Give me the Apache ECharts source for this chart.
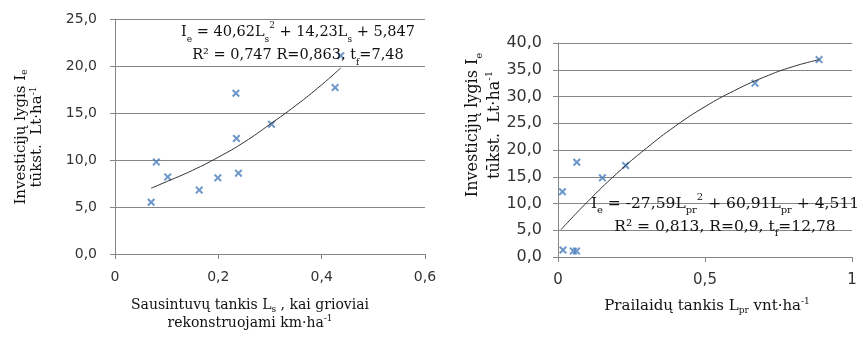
<!DOCTYPE html>
<html>
<head>
<meta charset="utf-8">
<script src="https://cdn.jsdelivr.net/npm/echarts@6/dist/echarts.min.js"></script>
<style>
  html, body { margin: 0; padding: 0; background: #fff; }
  #chart { width: 863px; height: 342px; }
</style>
</head>
<body>
<div id="chart"></div>
<script>
// left chart: Sausintuvu tankis Ls (x) vs investiciju lygis Ie (y)
var sausX = [0.070, 0.080, 0.102, 0.163, 0.199, 0.239, 0.234, 0.235, 0.303, 0.426, 0.437];
var sausY = [5.5, 9.8, 8.2, 6.8, 8.1, 8.6, 17.1, 12.3, 13.8, 17.7, 21.1];
// trend line
var sausTrendX = [0.07, 0.10, 0.15, 0.20, 0.25, 0.30, 0.35, 0.40, 0.437];
var sausTrendY = [7.0, 7.7, 8.9, 10.3, 11.9, 13.8, 15.8, 18.0, 19.8];

// right chart: Prailaidu tankis Lpr (x) vs investiciju lygis Ie (y)
var prX = [0.015, 0.017, 0.052, 0.063, 0.064, 0.151, 0.230, 0.670, 0.888];
var prY = [12.2, 1.3, 1.1, 1.1, 17.7, 14.8, 17.1, 32.5, 36.9];
var prTrendX = [0.01, 0.10, 0.20, 0.30, 0.40, 0.50, 0.60, 0.70, 0.80, 0.89];
var prTrendY = [5.1, 10.3, 15.6, 20.3, 24.5, 28.1, 31.1, 33.6, 35.6, 36.9];

var zip = function(xs, ys) {
    var out = [];
    for (var i = 0; i < xs.length; i++) out.push([xs[i], ys[i]]);
    return out;
};

var SERIF = 'DejaVu Serif';
var SANS = 'DejaVu Sans';
var GRID_COLOR = '#868686';
var MARK_COLOR = '#4a7ebb';
var CROSS = 'path://M0,1.8L1.8,0L5,3.2L8.2,0L10,1.8L6.8,5L10,8.2L8.2,10L5,6.8L1.8,10L0,8.2L3.2,5Z';

// rich styles: n = normal, b = subscript, p = superscript
var richFor = function(fs, lh) {
    var small = Math.round(fs * 0.62);
    var kb = Math.round(fs * 0.2);
    var kp = Math.round(fs * 0.15);
    return {
        n: { fontSize: fs, fontFamily: SERIF, lineHeight: lh, fill: '#111' },
        b: { fontSize: small, fontFamily: SERIF, lineHeight: lh - 2 * kb, verticalAlign: 'bottom', fill: '#111' },
        p: { fontSize: small, fontFamily: SERIF, lineHeight: lh - 2 * kp, verticalAlign: 'top', fill: '#111' }
    };
};

var label = function(x, y, text, fs, lh, rot) {
    return {
        type: 'text',
        x: x,
        y: y,
        rotation: rot || 0,
        z: 10,
        style: {
            text: text,
            rich: richFor(fs, lh),
            fontFamily: SERIF,
            fontSize: fs,
            fill: '#111',
            align: 'center',
            verticalAlign: 'middle'
        }
    };
};

var yFmt = function(v) { return v.toFixed(1).replace('.', ','); };
var xFmt = function(v) { return String(+v.toFixed(2)).replace('.', ','); };

var makeX = function(idx, max, interval, fs) {
    return {
        type: 'value', gridIndex: idx, min: 0, max: max, interval: interval,
        axisLine: { show: true, lineStyle: { color: GRID_COLOR } },
        axisTick: { show: true, length: 5, lineStyle: { color: GRID_COLOR } },
        splitLine: { show: false },
        axisLabel: { formatter: xFmt, fontFamily: SANS, fontSize: fs, color: '#333', margin: 16 }
    };
};
var makeY = function(idx, max, fs, margin) {
    return {
        type: 'value', gridIndex: idx, min: 0, max: max, interval: 5,
        axisLine: { show: true, lineStyle: { color: GRID_COLOR } },
        axisTick: { show: true, length: 5, lineStyle: { color: GRID_COLOR } },
        splitLine: { show: true, lineStyle: { color: GRID_COLOR, width: 1 } },
        axisLabel: { formatter: yFmt, fontFamily: SANS, fontSize: fs, color: '#333', margin: margin }
    };
};

var myChart = echarts.init(document.getElementById('chart'), null, { renderer: 'canvas' });

var option = {
    animation: false,
    backgroundColor: '#fff',
    grid: [
        { left: 115, right: 438, top: 19, bottom: 88 },
        { left: 558, right: 11, top: 43, bottom: 85 }
    ],
    xAxis: [makeX(0, 0.6, 0.2, 14), makeX(1, 1, 0.5, 15)],
    yAxis: [makeY(0, 25, 14, 18), makeY(1, 40, 16, 16)],
    series: [{
        type: 'line', xAxisIndex: 0, yAxisIndex: 0,
        data: zip(sausTrendX, sausTrendY),
        smooth: true, showSymbol: false,
        lineStyle: { color: '#333', width: 1 }
    }, {
        type: 'scatter', xAxisIndex: 0, yAxisIndex: 0,
        data: zip(sausX, sausY),
        symbol: CROSS, symbolSize: 8,
        itemStyle: { color: MARK_COLOR }
    }, {
        type: 'line', xAxisIndex: 1, yAxisIndex: 1,
        data: zip(prTrendX, prTrendY),
        smooth: true, showSymbol: false,
        lineStyle: { color: '#333', width: 1 }
    }, {
        type: 'scatter', xAxisIndex: 1, yAxisIndex: 1,
        data: zip(prX, prY),
        symbol: CROSS, symbolSize: 8,
        itemStyle: { color: MARK_COLOR }
    }],
    graphic: [
        // axis titles
        label(29, 137, '{n|Investicijų lygis I}{b|e}\n{n|tūkst.  Lt·ha}{p|-1}', 15, 16, Math.PI / 2),
        label(484, 125, '{n|Investicijų lygis I}{b|e}\n{n|tūkst.  Lt·ha}{p|-1}', 16, 22, Math.PI / 2),
        label(250, 314, '{n|Sausintuvų tankis L}{b|s}{n| , kai grioviai}\n{n|rekonstruojami km·ha}{p|-1}', 14, 18),
        label(707, 306, '{n|Prailaidų tankis L}{b|pr}{n| vnt·ha}{p|-1}', 15, 18),
        // regression equations
        label(298, 44, '{n|I}{b|e}{n| = 40,62L}{b|s}{p|2}{n| + 14,23L}{b|s}{n| + 5,847}\n{n|R² = 0,747 R=0,863, t}{b|f}{n|=7,48}', 14.5, 23),
        label(725, 215, '{n|I}{b|e}{n| = -27,59L}{b|pr}{p|2}{n| + 60,91L}{b|pr}{n| + 4,511}\n{n|R² = 0,813, R=0,9, t}{b|f}{n|=12,78}', 15.5, 23)
    ]
};

if (option && typeof option === 'object') {
    myChart.setOption(option);
}

window.addEventListener('resize', myChart.resize);
</script>
</body>
</html>
